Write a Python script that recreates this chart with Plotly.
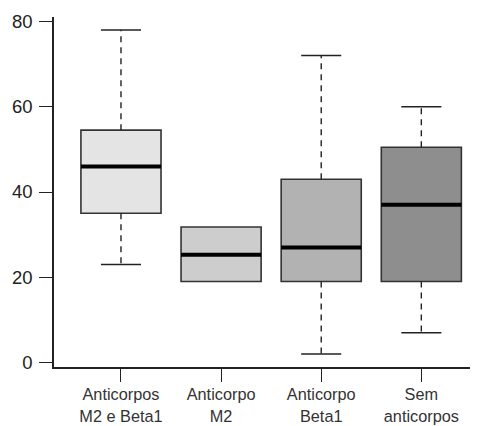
import plotly.graph_objects as go

categories = ["Anticorpos<br>M2 e Beta1", "Anticorpo<br>M2", "Anticorpo<br>Beta1", "Sem<br>anticorpos"]
lower = [23, 19, 2, 7]
q1 = [35, 19, 19, 19]
median = [46, 25.3, 27, 37]
q3 = [54.5, 31.8, 43, 50.5]
upper = [78, 31.8, 72, 60]
fills = ["#e4e4e4", "#cdcdcd", "#b2b2b2", "#8e8e8e"]

positions = [1, 2, 3, 4]
box_half = 0.4
cap_half = 0.2
edge = "#333333"

fig = go.Figure()
for i, p in enumerate(positions):
    fig.add_trace(go.Box(
        x=[p], q1=[q1[i]], median=[median[i]], q3=[q3[i]],
        lowerfence=[q1[i]], upperfence=[q3[i]],
        width=2 * box_half, fillcolor=fills[i],
        line=dict(color=edge, width=1.6), whiskerwidth=0,
        boxpoints=False, hoverinfo="skip", showlegend=False,
    ))
    # whiskers (dashed)
    for a, b in ((q3[i], upper[i]), (q1[i], lower[i])):
        if a != b:
            fig.add_trace(go.Scatter(x=[p, p], y=[a, b], mode="lines",
                                     line=dict(color="#222222", width=1.4, dash="6px,5px"),
                                     showlegend=False, hoverinfo="skip"))
            fig.add_trace(go.Scatter(x=[p - cap_half, p + cap_half], y=[b, b], mode="lines",
                                     line=dict(color="#222222", width=1.6),
                                     showlegend=False, hoverinfo="skip"))
    # median
    fig.add_trace(go.Scatter(x=[p - box_half, p + box_half], y=[median[i], median[i]], mode="lines",
                             line=dict(color="#000000", width=4),
                             showlegend=False, hoverinfo="skip"))

# page body has an 8px default margin, so the figure is sized/offset to compensate
fig.update_layout(
    width=470, height=418,
    margin=dict(l=46, r=0, t=9, b=59, autoexpand=False),
    paper_bgcolor="white", plot_bgcolor="white",
    font=dict(family="Liberation Sans, Arial, sans-serif", color="#222222"),
)
fig.update_xaxes(
    range=[0.331, 4.566], tickvals=positions, ticktext=categories,
    showline=True, linecolor="#222222", linewidth=1.6, automargin=False,
    ticks="outside", ticklen=13, tickwidth=1.4, tickcolor="#222222",
    showgrid=False, zeroline=False, tickfont=dict(size=16.3, color="#333333"),
    ticklabelstandoff=-1,
)
fig.update_yaxes(
    range=[-1.04, 81.04], tickvals=[0, 20, 40, 60, 80],
    showline=True, linecolor="#222222", linewidth=1.6, automargin=False,
    ticks="outside", ticklen=13, tickwidth=1.4, tickcolor="#222222",
    showgrid=False, zeroline=False, tickfont=dict(size=18.5, color="#222222"),
    ticklabelstandoff=3,
)
fig.write_html("out.html")
